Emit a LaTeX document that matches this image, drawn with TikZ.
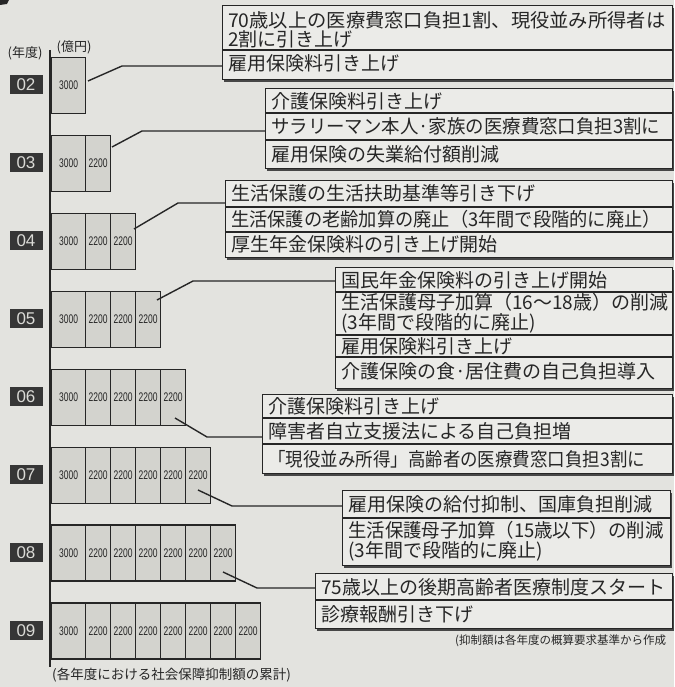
\documentclass[tikz,border=0pt]{standalone}
\usepackage{fontspec}
\usepackage{graphicx}
\newfontfamily\jp{Noto Sans CJK JP}
\newfontfamily\lat{Liberation Sans}
\newfontfamily\narrowlat[FakeStretch=0.68]{Liberation Sans}
\newcommand\squeezetext[2]{\scalebox{#1}[1]{#2}}
\usetikzlibrary{calc,shadows}
\definecolor{paper}{HTML}{E3E3DF}
\definecolor{boxfill}{HTML}{EBEBE8}
\definecolor{cellfill}{HTML}{D3D3CE}
\definecolor{ink}{HTML}{262626}
\definecolor{yearfill}{HTML}{363636}
\definecolor{yeartext}{HTML}{DADAD6}
\tikzset{
  textbox/.style={draw=ink, line width=1.4pt, fill=boxfill, inner sep=0pt, anchor=north west,
    general shadow={fill=ink!85, shadow xshift=1.5pt, shadow yshift=-2pt}},
  rowtext/.style={anchor=west, inner sep=0pt, align=left, text=ink,
    font=\jp\fontsize{19}{19.5}\selectfont},
  cellbox/.style={draw=ink, line width=1.2pt, fill=cellfill, anchor=north west,
    minimum height=56pt, inner sep=0pt, text=ink, font=\narrowlat\fontsize{12.5}{12.5}\selectfont},
  yearbox/.style={fill=yearfill, minimum width=33pt, minimum height=19pt, inner sep=0pt,
    text=yeartext, font=\lat\fontsize{17}{17}\selectfont},
  conn/.style={draw=ink, line width=1.4pt},
  divider/.style={draw=ink, line width=1.1pt},
  axisline/.style={draw=ink, line width=1.2pt},
  smalljp/.style={inner sep=0pt, text=ink, font=\jp\fontsize{12}{12}\selectfont},
}
\begin{document}
\begin{tikzpicture}[x=1pt,y=-1pt]
\useasboundingbox (0,0) rectangle (674,687);
\fill[paper] (0,0) rectangle (674,687);
\fill[ink] (0,0) -- (9,0) -- (7,4) -- (0,5) -- cycle;

% headings
\node[smalljp, font=\jp\fontsize{13}{13}\selectfont] (hyear) at (25,53) {(年度)};
\node[smalljp, font=\jp\fontsize{13}{13}\selectfont] (hoku) at (74,47) {(億円)};
\draw[axisline] (50,50) -- (50,667);

% bars
\foreach \i/\yr in {0/02,1/03,2/04,3/05,4/06,5/07,6/08,7/09}{
  \pgfmathsetmacro\bt{57+77.9*\i}
  \node[cellbox, minimum width=34pt] (c\i-0) at (51,\bt) {3000};
  \ifnum\i>0
    \foreach \k in {1,...,\i}{
      \pgfmathsetmacro\bx{85+25*(\k-1)}
      \node[cellbox, minimum width=25pt] (c\i-\k) at (\bx,\bt) {2200};
    }
  \fi
  \node[yearbox] (y\i) at (26,\bt+28) {\yr};
}

% text boxes
\node[textbox, minimum width=450pt, minimum height=74pt] (b1) at (222,5) {};
\draw[divider] (222,50) -- (672,50);
\node[rowtext] (t1a) at (228,30) {\squeezetext{1.015}{70歳以上の医療費窓口負担1割、現役並み所得者は}\\2割に引き上げ};
\node[rowtext] (t1b) at (228,63) {雇用保険料引き上げ};

\node[textbox, minimum width=407pt, minimum height=80pt] (b2) at (265,88) {};
\draw[divider] (265,113) -- (672,113);
\draw[divider] (265,140) -- (672,140);
\node[rowtext] (t2a) at (271,101) {介護保険料引き上げ};
\node[rowtext] (t2b) at (271,126.5) {\squeezetext{0.97}{サラリーマン本人·家族の医療費窓口負担3割に}};
\node[rowtext] (t2c) at (271,154) {雇用保険の失業給付額削減};

\node[textbox, minimum width=447pt, minimum height=77pt] (b3) at (225,180) {};
\draw[divider] (225,207) -- (672,207);
\draw[divider] (225,232) -- (672,232);
\node[rowtext] (t3a) at (231,193) {生活保護の生活扶助基準等引き下げ};
\node[rowtext] (t3b) at (231,219.5) {\squeezetext{0.96}{生活保護の老齢加算の廃止（3年間で段階的に廃止）}};
\node[rowtext] (t3c) at (231,244) {厚生年金保険料の引き上げ開始};

\node[textbox, minimum width=337pt, minimum height=121pt] (b4) at (335,267) {};
\draw[divider] (335,292) -- (672,292);
\draw[divider] (335,335) -- (672,335);
\draw[divider] (335,357) -- (672,357);
\node[rowtext] (t4a) at (341,280) {国民年金保険料の引き上げ開始};
\node[rowtext] (t4b) at (341,313) {生活保護母子加算（16～18歳）の削減\\(3年間で段階的に廃止)};
\node[rowtext] (t4c) at (341,346) {雇用保険料引き上げ};
\node[rowtext] (t4d) at (341,371) {介護保険の食·居住費の自己負担導入};

\node[textbox, minimum width=410pt, minimum height=79pt] (b5) at (262,394) {};
\draw[divider] (262,418) -- (672,418);
\draw[divider] (262,444) -- (672,444);
\node[rowtext] (t5a) at (268,406) {介護保険料引き上げ};
\node[rowtext] (t5b) at (268,431) {障害者自立支援法による自己負担増};
\node[rowtext] (t5c) at (268,459) {\squeezetext{0.92}{「現役並み所得」高齢者の医療費窓口負担3割に}};

\node[textbox, minimum width=328pt, minimum height=75pt] (b6) at (342,490) {};
\draw[divider] (342,518) -- (670,518);
\node[rowtext] (t6a) at (348,504) {雇用保険の給付抑制、国庫負担削減};
\node[rowtext] (t6b) at (348,541) {\squeezetext{0.97}{生活保護母子加算（15歳以下）の削減}\\(3年間で段階的に廃止)};

\node[textbox, minimum width=357pt, minimum height=55pt] (b7) at (315,573) {};
\draw[divider] (315,600) -- (672,600);
\node[rowtext] (t7a) at (321,587) {75歳以上の後期高齢者医療制度スタート};
\node[rowtext] (t7b) at (321,614) {診療報酬引き下げ};

% connectors
\coordinate (s0) at (88,81);   \coordinate (k0) at (122,66);
\coordinate (s1) at (112,147); \coordinate (k1) at (142,131);
\coordinate (s2) at (134,229); \coordinate (k2) at (178,203);
\coordinate (s3) at (157,300); \coordinate (k3) at (193,281);
\coordinate (s4) at (175,418); \coordinate (k4) at (207,437);
\coordinate (s5) at (198,490); \coordinate (k5) at (232,506);
\coordinate (s6) at (223,572); \coordinate (k6) at (257,588);
\draw[conn] (s0) -- (k0) -- (k0 -| b1.west);
\draw[conn] (s1) -- (k1) -- (k1 -| b2.west);
\draw[conn] (s2) -- (k2) -- (k2 -| b3.west);
\draw[conn] (s3) -- (k3) -- (k3 -| b4.west);
\draw[conn] (s4) -- (k4) -- (k4 -| b5.west);
\draw[conn] (s5) -- (k5) -- (k5 -| b6.west);
\draw[conn] (s6) -- (k6) -- (k6 -| b7.west);

% notes
\node[smalljp, anchor=west, font=\jp\fontsize{11.5}{11.5}\selectfont] (note1) at (455,641) {(抑制額は各年度の概算要求基準から作成};
\node[smalljp, anchor=west, font=\jp\fontsize{13.5}{13.5}\selectfont] (note2) at (52,675) {(各年度における社会保障抑制額の累計)};
\end{tikzpicture}
\end{document}
